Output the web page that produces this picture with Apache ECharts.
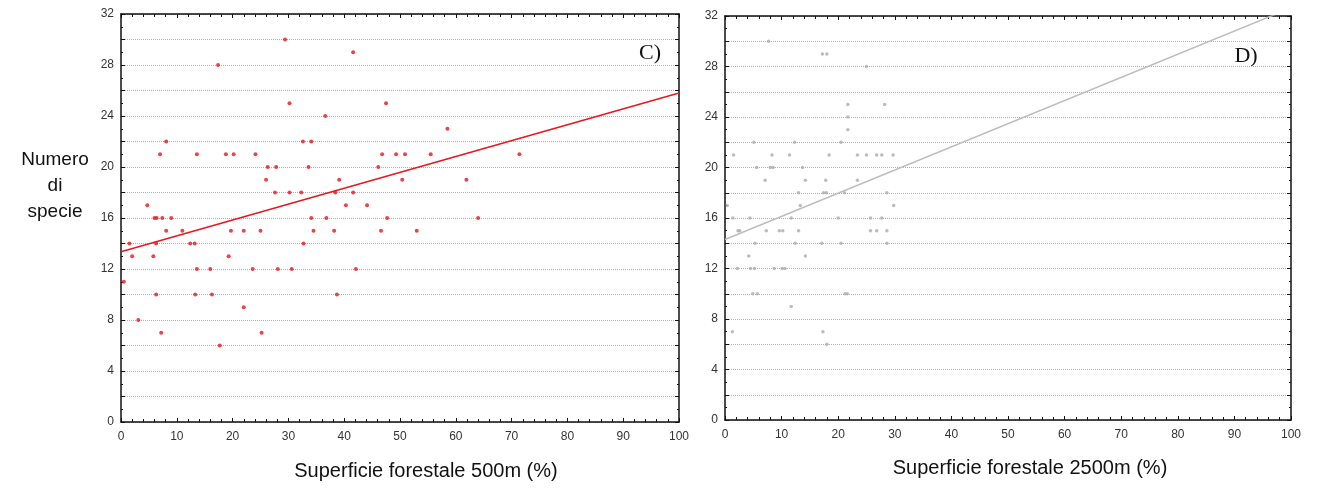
<!DOCTYPE html>
<html><head><meta charset="utf-8">
<script src="https://cdn.jsdelivr.net/npm/echarts@6/dist/echarts.min.js"></script>
<style>html,body{margin:0;padding:0;background:#fff}#c{width:1320px;height:493px}</style>
</head><body><div id="c"></div>
<script>
// Panel C: Superficie forestale 500m (%) vs Numero di specie
const pointsC = [[0.5,11],[1.5,14],[2.0,13],[3.1,8],[4.7,17],[5.8,13],[6.0,16],[6.3,14],[6.3,10],[6.4,16],[7.0,21],[7.2,7],[7.4,16],[8.1,22],[8.1,15],[9.0,16],[11.0,15],[12.4,14],[13.2,14],[13.3,10],[13.6,21],[13.6,12],[16.0,12],[16.3,10],[17.4,28],[17.7,6],[18.8,21],[19.3,13],[19.7,15],[20.2,21],[22.0,15],[22.0,9],[23.6,12],[24.1,21],[25.0,15],[25.2,7],[26.0,19],[26.3,20],[27.6,18],[27.8,20],[28.1,12],[29.4,30],[30.2,25],[30.2,18],[30.6,12],[32.3,18],[32.6,22],[32.7,14],[33.6,20],[34.1,22],[34.1,16],[34.5,15],[36.6,24],[36.8,16],[38.2,15],[38.4,18],[38.7,10],[39.1,19],[40.3,17],[41.6,29],[41.6,18],[42.1,12],[44.1,17],[46.1,20],[46.6,15],[46.8,21],[47.5,25],[47.7,16],[49.3,21],[50.4,19],[50.9,21],[53.0,15],[55.5,21],[58.5,23],[61.9,19],[64.0,16],[71.4,21]];
const fitC = [[0,13.35],[100,25.8]];
// Panel D: Superficie forestale 2500m (%) vs Numero di specie
const pointsD = [[7.7,30],[17.2,29],[18.0,29],[25.0,28],[28.2,25],[21.7,25],[21.7,24],[21.7,23],[5.1,22],[12.3,22],[20.5,22],[1.5,21],[8.3,21],[11.4,21],[18.4,21],[23.4,21],[25.0,21],[26.8,21],[27.7,21],[29.7,21],[5.6,20],[8.0,20],[8.5,20],[13.7,20],[7.1,19],[14.2,19],[17.8,19],[23.4,19],[13.0,18],[17.4,18],[17.9,18],[21.1,18],[28.6,18],[13.3,17],[29.8,17],[0.4,17],[1.4,16],[4.4,16],[11.7,16],[20.0,16],[25.7,16],[27.7,16],[2.3,15],[2.6,15],[7.3,15],[9.6,15],[10.2,15],[13.0,15],[25.7,15],[26.8,15],[28.6,15],[5.3,14],[12.4,14],[17.1,14],[20.5,14],[28.6,14],[4.2,13],[14.2,13],[2.2,12],[4.5,12],[5.2,12],[8.7,12],[10.1,12],[10.6,12],[4.9,10],[5.7,10],[21.2,10],[21.6,10],[11.7,9],[1.3,7],[17.3,7],[18.0,6]];
const fitD = [[0,14.3],[100,32.64]];
const xTicks = {min:0, max:100, interval:10};
const yTicks = {min:0, max:32, interval:2, labelEvery:4};
const xTitleC = 'Superficie forestale 500m (%)';
const xTitleD = 'Superficie forestale 2500m (%)';
const yTitle = 'Numero\ndi\nspecie';

const chart = echarts.init(document.getElementById('c'), null, {renderer:'canvas'});
const axisLine = {show:true, onZero:false, lineStyle:{color:'#111', width:1.5}};
function xAx(gi, pos, labels){
  return {type:'value', gridIndex:gi, position:pos, min:xTicks.min, max:xTicks.max, interval:xTicks.interval,
    axisLine, axisTick:{show:true, inside:true, length:4, lineStyle:{color:'#111'}},
    minorTick:{show:true, splitNumber:5, length:3, lineStyle:{color:'#111'}},
    splitLine:{show:false},
    axisLabel:{show:labels, color:'#333', fontFamily:'Liberation Sans', fontSize:12, margin:9}};
}
function yAx(gi, pos, labels){
  return {type:'value', gridIndex:gi, position:pos, min:yTicks.min, max:yTicks.max, interval:yTicks.interval,
    axisLine, axisTick:{show:true, inside:true, length:4, lineStyle:{color:'#111'}},
    minorTick:{show:true, splitNumber:2, length:2, lineStyle:{color:'#111'}},
    splitLine:{show:labels, lineStyle:{type:[1,1], color:'#b0b0b0', width:1}},
    axisLabel:{show:labels, color:'#333', fontFamily:'Liberation Sans', fontSize:12, margin:7,
      formatter: v => (v % yTicks.labelEvery === 0 ? String(v) : '')}};
}
chart.setOption({
  animation:false,
  backgroundColor:'#fff',
  grid:[
    {left:121, top:14, width:558, height:408},
    {left:725, top:16, width:566, height:404}
  ],
  xAxis:[xAx(0,'bottom',true), xAx(0,'top',false), xAx(1,'bottom',true), xAx(1,'top',false)],
  yAxis:[yAx(0,'left',true), yAx(0,'right',false), yAx(1,'left',true), yAx(1,'right',false)],
  series:[
    {type:'line', xAxisIndex:0, yAxisIndex:0, data:fitC, symbol:'none', clip:true, lineStyle:{color:'#e8161e', width:1.5}},
    {type:'scatter', xAxisIndex:0, yAxisIndex:0, data:pointsC, symbol:'circle', symbolSize:4, itemStyle:{color:'#e3161c'}},
    {type:'line', xAxisIndex:2, yAxisIndex:2, data:fitD, symbol:'none', clip:true, lineStyle:{color:'#bdbdbd', width:1.5}},
    {type:'scatter', xAxisIndex:2, yAxisIndex:2, data:pointsD, symbol:'circle', symbolSize:3.5, itemStyle:{color:'#ababab'}}
  ],
  graphic:[
    {type:'text', x:426, y:471, style:{text:xTitleC, font:'20px "Liberation Sans"', fill:'#111', align:'center', verticalAlign:'middle'}},
    {type:'text', x:1030, y:468, style:{text:xTitleD, font:'20px "Liberation Sans"', fill:'#111', align:'center', verticalAlign:'middle'}},
    {type:'text', x:55, y:186, style:{text:yTitle, font:'19px "Liberation Sans"', fill:'#111', align:'center', verticalAlign:'middle', lineHeight:26}},
    {type:'text', x:650, y:53, style:{text:'C)', font:'22px "Liberation Serif"', fill:'#111', align:'center', verticalAlign:'middle'}},
    {type:'text', x:1246, y:56, style:{text:'D)', font:'22px "Liberation Serif"', fill:'#111', align:'center', verticalAlign:'middle'}}
  ]
});
</script></body></html>
